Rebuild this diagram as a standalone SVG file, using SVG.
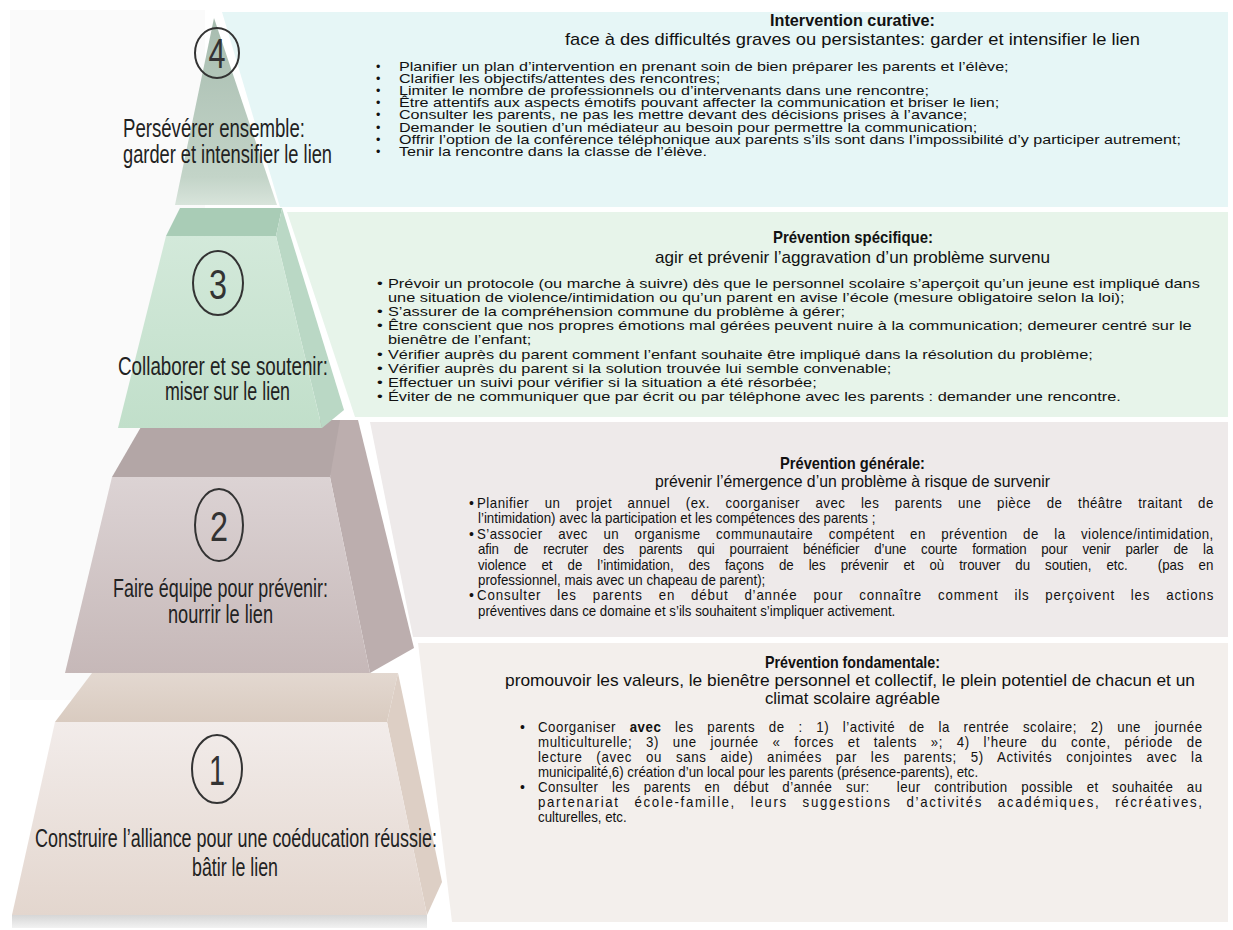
<svg xmlns="http://www.w3.org/2000/svg" width="1233" height="930" viewBox="0 0 1233 930">
<defs>
<linearGradient id="g4" x1="0" y1="0" x2="0" y2="1"><stop offset="0" stop-color="#a7bcaf"/><stop offset="0.85" stop-color="#c3d4c8"/><stop offset="1" stop-color="#d8e4db"/></linearGradient>
<linearGradient id="g3f" x1="0" y1="0" x2="0" y2="1"><stop offset="0" stop-color="#d3e9da"/><stop offset="1" stop-color="#c1dfca"/></linearGradient>
<linearGradient id="g2f" x1="0" y1="0" x2="0" y2="1"><stop offset="0" stop-color="#dcd3d4"/><stop offset="1" stop-color="#c6b8b8"/></linearGradient>
<linearGradient id="g1f" x1="0" y1="0" x2="0" y2="1"><stop offset="0" stop-color="#f2ecea"/><stop offset="1" stop-color="#e3d6ce"/></linearGradient>
<linearGradient id="g1t" x1="0" y1="0" x2="0" y2="1"><stop offset="0" stop-color="#e3d8d0"/><stop offset="1" stop-color="#d9cbc0"/></linearGradient>
<linearGradient id="gsh" x1="0" y1="0" x2="0" y2="1"><stop offset="0" stop-color="#d6d6d6"/><stop offset="1" stop-color="#f2f2f2"/></linearGradient>
</defs>
<style>
.lbl{font-family:"Liberation Sans Narrow","Liberation Sans",sans-serif;font-size:25px;fill:#222}
.num{font-family:"Liberation Sans Narrow","Liberation Sans",sans-serif;font-size:42px;fill:#333;text-anchor:middle}
.ring{fill:none;stroke:#333;stroke-width:2}
.ttl{font-family:"Liberation Sans Narrow","Liberation Sans",sans-serif;font-size:17px;font-weight:bold;fill:#111}
.sub{font-family:"Liberation Sans Narrow","Liberation Sans",sans-serif;font-size:17px;fill:#111}
.b4{font-family:"Liberation Sans",sans-serif;font-size:12.5px;fill:#111}
.b3{font-family:"Liberation Sans",sans-serif;font-size:13.5px;fill:#111}
.b2{font-family:"Liberation Sans",sans-serif;font-size:14px;fill:#111}
.b1{font-family:"Liberation Sans",sans-serif;font-size:14px;fill:#111}
.j2{word-spacing:12px}
.j1{word-spacing:10px}
.pre{white-space:pre}
</style>
<rect x="0" y="0" width="1233" height="930" fill="#ffffff"/>
<rect x="10" y="10" width="195" height="690" fill="#fafafa"/>

<g id="panel-4">
<polygon points="222,12 1228,12 1228,207 280,207" fill="#e6f6f6"/>
<text class="ttl" x="770" y="26" textLength="165" lengthAdjust="spacingAndGlyphs">Intervention curative:</text>
<text class="sub" x="565" y="45" textLength="575" lengthAdjust="spacingAndGlyphs">face à des difficultés graves ou persistantes: garder et intensifier le lien</text>
<g class="b4">
<text x="376" y="71">•</text><text x="376" y="83">•</text><text x="376" y="95">•</text><text x="376" y="107">•</text>
<text x="376" y="119">•</text><text x="376" y="132">•</text><text x="376" y="144">•</text><text x="376" y="156">•</text>
<g transform="translate(399,0) scale(1.29,1) translate(-399,0)">
<text x="399" y="71">Planifier un plan d’intervention en prenant soin de bien préparer les parents et l’élève;</text>
<text x="399" y="83">Clarifier les objectifs/attentes des rencontres;</text>
<text x="399" y="95">Limiter le nombre de professionnels ou d’intervenants dans une rencontre;</text>
<text x="399" y="107">Être attentifs aux aspects émotifs pouvant affecter la communication et briser le lien;</text>
<text x="399" y="119">Consulter les parents, ne pas les mettre devant des décisions prises à l’avance;</text>
<text x="399" y="132">Demander le soutien d’un médiateur au besoin pour permettre la communication;</text>
<text x="399" y="144">Offrir l’option de la conférence téléphonique aux parents s’ils sont dans l’impossibilité d’y participer autrement;</text>
<text x="399" y="156">Tenir la rencontre dans la classe de l’élève.</text>
</g>
</g>
</g>

<g id="panel-3">
<polygon points="287,212 1228,212 1228,417 355,417" fill="#e7f4ea"/>
<text class="ttl" x="773" y="243" textLength="160" lengthAdjust="spacingAndGlyphs">Prévention spécifique:</text>
<text class="sub" x="655" y="263" textLength="395" lengthAdjust="spacingAndGlyphs">agir et prévenir l’aggravation d’un problème survenu</text>
<g class="b3" transform="translate(388,0) scale(1.21,1) translate(-388,0)">
<text x="379" y="288">•</text><text x="388" y="288">Prévoir un protocole (ou marche à suivre) dès que le personnel scolaire s’aperçoit qu’un jeune est impliqué dans</text>
<text x="388" y="302">une situation de violence/intimidation ou qu’un parent en avise l’école (mesure obligatoire selon la loi);</text>
<text x="379" y="316">•</text><text x="388" y="316">S’assurer de la compréhension commune du problème à gérer;</text>
<text x="379" y="330">•</text><text x="388" y="330">Être conscient que nos propres émotions mal gérées peuvent nuire à la communication; demeurer centré sur le</text>
<text x="388" y="344">bienêtre de l’enfant;</text>
<text x="379" y="359">•</text><text x="388" y="359">Vérifier auprès du parent comment l’enfant souhaite être impliqué dans la résolution du problème;</text>
<text x="379" y="373">•</text><text x="388" y="373">Vérifier auprès du parent si la solution trouvée lui semble convenable;</text>
<text x="379" y="387">•</text><text x="388" y="387">Effectuer un suivi pour vérifier si la situation a été résorbée;</text>
<text x="379" y="401">•</text><text x="388" y="401">Éviter de ne communiquer que par écrit ou par téléphone avec les parents : demander une rencontre.</text>
</g>
</g>

<g id="panel-2">
<polygon points="370,422 1228,422 1228,637 413,637" fill="#eeeaea"/>
<text class="ttl" x="780" y="469" textLength="145" lengthAdjust="spacingAndGlyphs">Prévention générale:</text>
<text class="sub" x="655" y="487" textLength="395" lengthAdjust="spacingAndGlyphs">prévenir l’émergence d’un problème à risque de survenir</text>
<g class="b2">
<text x="469" y="508">•</text><text x="469" y="539">•</text><text x="469" y="600">•</text>
<g transform="translate(478,0) scale(0.95,1) translate(-478,0)">
<text class="j2" x="477" y="508" textLength="775" lengthAdjust="spacing">Planifier un projet annuel (ex. coorganiser avec les parents une pièce de théâtre traitant de</text>
<text x="478" y="523">l’intimidation) avec la participation et les compétences des parents ;</text>
<text class="j2" x="477" y="539" textLength="775" lengthAdjust="spacing">S’associer avec un organisme communautaire compétent en prévention de la violence/intimidation,</text>
<text class="j2" x="478" y="554" textLength="774" lengthAdjust="spacing">afin de recruter des parents qui pourraient bénéficier d’une courte formation pour venir parler de la</text>
<text class="j2 pre" x="478" y="570" textLength="774" lengthAdjust="spacing">violence et de l’intimidation, des façons de les prévenir et où trouver du soutien, etc.  (pas en</text>
<text x="478" y="585">professionnel, mais avec un chapeau de parent);</text>
<text class="j2" x="477" y="600" textLength="775" lengthAdjust="spacing">Consulter les parents en début d’année pour connaître comment ils perçoivent les actions</text>
<text x="478" y="616">préventives dans ce domaine et s’ils souhaitent s’impliquer activement.</text>
</g>
</g>
</g>

<g id="panel-1">
<polygon points="418,643 1228,643 1228,922 452,922" fill="#f3efec"/>
<text class="ttl" x="765" y="668" textLength="175" lengthAdjust="spacingAndGlyphs">Prévention fondamentale:</text>
<text class="sub" x="505" y="686" textLength="690" lengthAdjust="spacingAndGlyphs">promouvoir les valeurs, le bienêtre personnel et collectif, le plein potentiel de chacun et un</text>
<text class="sub" x="765" y="704" textLength="175" lengthAdjust="spacingAndGlyphs">climat scolaire agréable</text>
<g class="b1">
<text x="520" y="732">•</text><text x="520" y="792">•</text>
<g transform="translate(538,0) scale(0.95,1) translate(-538,0)">
<text class="j1" x="538" y="732" textLength="699" lengthAdjust="spacing">Coorganiser <tspan font-weight="bold">avec</tspan> les parents de : 1) l’activité de la rentrée scolaire; 2) une journée</text>
<text class="j1" x="538" y="747" textLength="699" lengthAdjust="spacing">multiculturelle; 3) une journée « forces et talents »; 4) l’heure du conte, période de</text>
<text class="j1" x="538" y="762" textLength="699" lengthAdjust="spacing">lecture (avec ou sans aide) animées par les parents; 5) Activités conjointes avec la</text>
<text x="538" y="777">municipalité,6) création d’un local pour les parents (présence-parents), etc.</text>
<text class="j1 pre" x="538" y="792" textLength="699" lengthAdjust="spacing">Consulter les parents en début d’année sur:  leur contribution possible et souhaitée au</text>
<text class="j1" x="538" y="807" textLength="699" lengthAdjust="spacing">partenariat école-famille, leurs suggestions d’activités académiques, récréatives,</text>
<text x="538" y="822">culturelles, etc.</text>
</g>
</g>
</g>

<g id="level-1">
<rect x="12" y="915" width="415" height="13" fill="url(#gsh)"/>
<polygon points="92,673 398,673 387,722 55,722" fill="url(#g1t)"/>
<polygon points="398,673 442,882 427,915 387,722" fill="#ddcfc5"/>
<polygon points="55,722 387,722 427,915 12,915" fill="url(#g1f)"/>
<ellipse class="ring" cx="217" cy="769" rx="25" ry="34"/>
<text class="num" x="217" y="785" textLength="16" lengthAdjust="spacingAndGlyphs">1</text>
<text class="lbl" x="35" y="847" textLength="402" lengthAdjust="spacingAndGlyphs">Construire l’alliance pour une coéducation réussie:</text>
<text class="lbl" x="192" y="876" textLength="86" lengthAdjust="spacingAndGlyphs">bâtir le lien</text>
</g>

<g id="level-2">
<polygon points="145,420 355,420 330,477 112,477" fill="#b3a6a6"/>
<polygon points="340,420 358,420 414,648 370,673 330,477" fill="#bcaeae"/>
<polygon points="112,477 330,477 370,673 65,673" fill="url(#g2f)"/>
<ellipse class="ring" cx="219" cy="525" rx="24" ry="36"/>
<text class="num" x="219" y="541" textLength="18" lengthAdjust="spacingAndGlyphs">2</text>
<text class="lbl" x="113" y="597" textLength="215" lengthAdjust="spacingAndGlyphs">Faire équipe pour prévenir:</text>
<text class="lbl" x="168" y="623" textLength="105" lengthAdjust="spacingAndGlyphs">nourrir le lien</text>
</g>

<g id="level-3">
<polygon points="180,208 282,208 276,236 166,236" fill="#a9ccb6"/>
<polygon points="282,208 344,410 322,428 276,236" fill="#bad8c5"/>
<polygon points="166,236 276,236 322,428 118,428" fill="url(#g3f)"/>
<ellipse class="ring" cx="218" cy="283" rx="25" ry="32"/>
<text class="num" x="218" y="299" textLength="18" lengthAdjust="spacingAndGlyphs">3</text>
<text class="lbl" x="118" y="375" textLength="210" lengthAdjust="spacingAndGlyphs">Collaborer et se soutenir:</text>
<text class="lbl" x="165" y="400" textLength="125" lengthAdjust="spacingAndGlyphs">miser sur le lien</text>
</g>

<g id="level-4">
<polygon points="214,18 277,205 175,205" fill="url(#g4)"/>
<ellipse class="ring" cx="217" cy="53" rx="22" ry="25"/>
<text class="num" x="217" y="68" textLength="17" lengthAdjust="spacingAndGlyphs">4</text>
<text class="lbl" x="123" y="137" textLength="182" lengthAdjust="spacingAndGlyphs">Persévérer ensemble:</text>
<text class="lbl" x="123" y="163" textLength="209" lengthAdjust="spacingAndGlyphs">garder et intensifier le lien</text>
</g>
</svg>
